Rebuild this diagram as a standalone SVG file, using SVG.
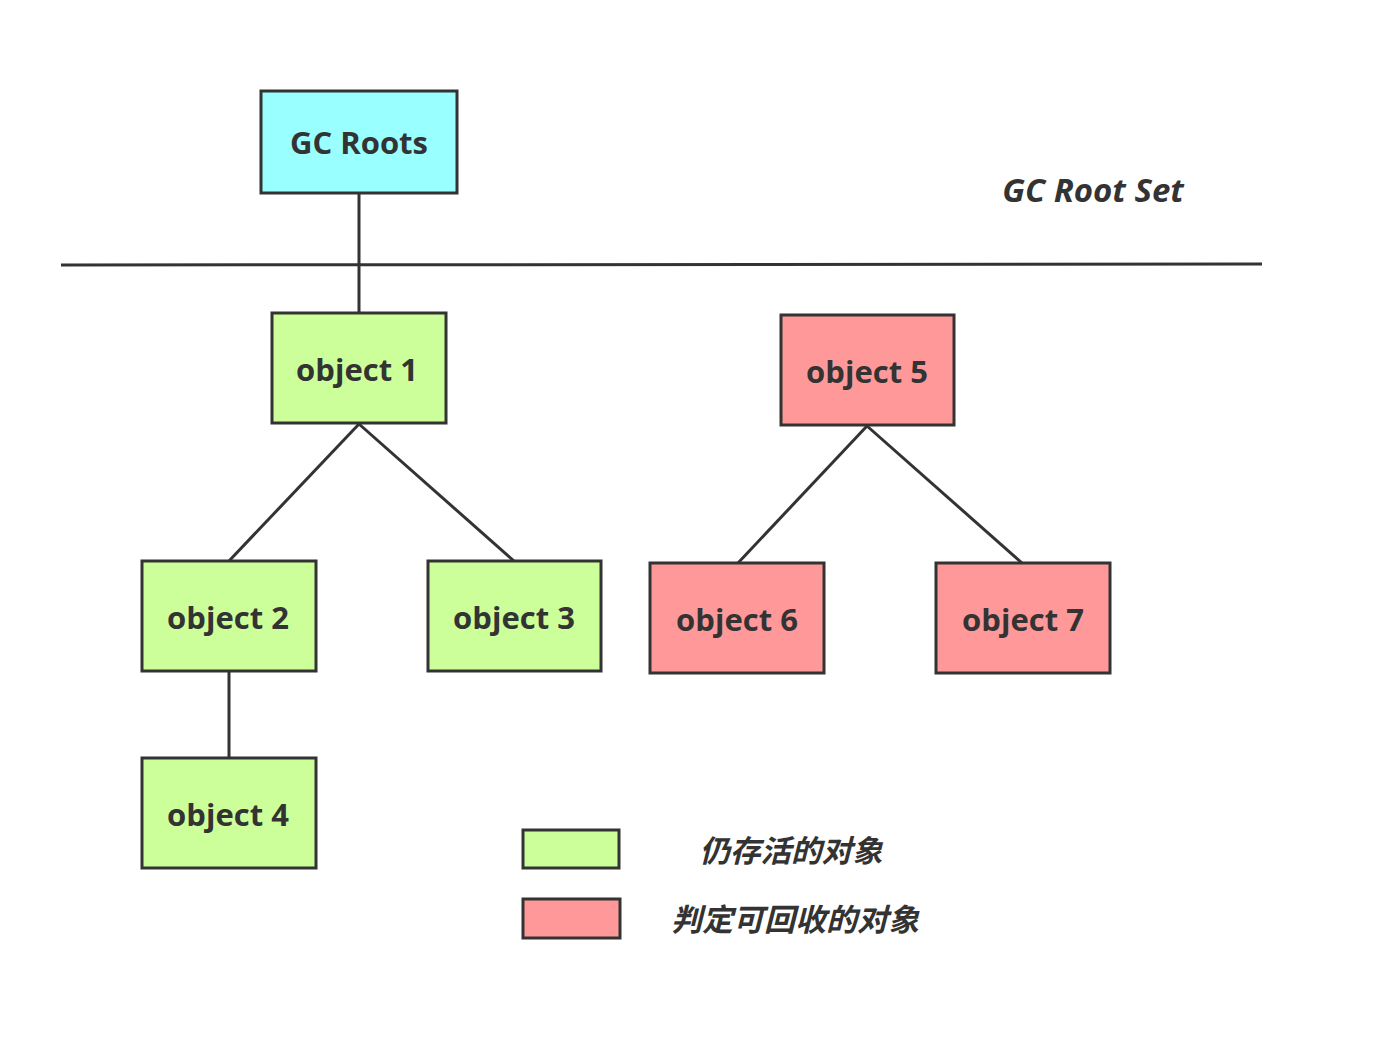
<svg xmlns="http://www.w3.org/2000/svg" width="1393" height="1041" viewBox="0 0 1393 1041">
<style>
.box{stroke:#333;stroke-width:3}
.live{fill:#CCFF99}
.dead{fill:#FF9999}
.root{fill:#99FFFF}
.lbl{font-family:"Open Sans","Noto Sans",sans-serif;font-weight:bold;font-size:31px;fill:#333;text-anchor:middle}
.it{font-family:"Open Sans","Noto Sans CJK SC",sans-serif;font-weight:bold;font-style:italic;fill:#333;text-anchor:middle}
.conn line{stroke:#333;stroke-width:3}
</style>
<rect width="1393" height="1041" fill="#fff"/>
<g id="connectors" class="conn">
<line x1="61" y1="265" x2="1262" y2="264"/>
<line x1="359" y1="193" x2="359" y2="313"/>
<line x1="359" y1="424" x2="229" y2="561"/>
<line x1="359" y1="424" x2="514" y2="561"/>
<line x1="229" y1="671" x2="229" y2="758"/>
<line x1="867" y1="426" x2="738" y2="563"/>
<line x1="867" y1="426" x2="1022" y2="563"/>
</g>
<g id="gcroots"><rect class="box root" x="261" y="91" width="196" height="102"/><text class="lbl" x="359" y="154" font-size="33">GC Roots</text></g>
<g id="rootset"><text class="it" x="1093" y="202" font-size="33">GC Root Set</text></g>
<g id="obj1"><rect class="box live" x="272" y="313" width="174" height="110"/><text class="lbl" x="357" y="381">object 1</text></g>
<g id="obj5"><rect class="box dead" x="781" y="315" width="173" height="110"/><text class="lbl" x="867" y="383">object 5</text></g>
<g id="obj2"><rect class="box live" x="142" y="561" width="174" height="110"/><text class="lbl" x="228" y="629">object 2</text></g>
<g id="obj3"><rect class="box live" x="428" y="561" width="173" height="110"/><text class="lbl" x="514" y="629">object 3</text></g>
<g id="obj6"><rect class="box dead" x="650" y="563" width="174" height="110"/><text class="lbl" x="737" y="631">object 6</text></g>
<g id="obj7"><rect class="box dead" x="936" y="563" width="174" height="110"/><text class="lbl" x="1023" y="631">object 7</text></g>
<g id="obj4"><rect class="box live" x="142" y="758" width="174" height="110"/><text class="lbl" x="228" y="826">object 4</text></g>
<g id="legend-live"><rect class="box live" x="523" y="830" width="96" height="38" stroke-width="3.5"/><text class="it" x="791" y="862" font-size="30.5">仍存活的对象</text></g>
<g id="legend-dead"><rect class="box dead" x="523" y="899" width="97" height="39" stroke-width="3.5"/><text class="it" x="795" y="931" font-size="31">判定可回收的对象</text></g>
</svg>
